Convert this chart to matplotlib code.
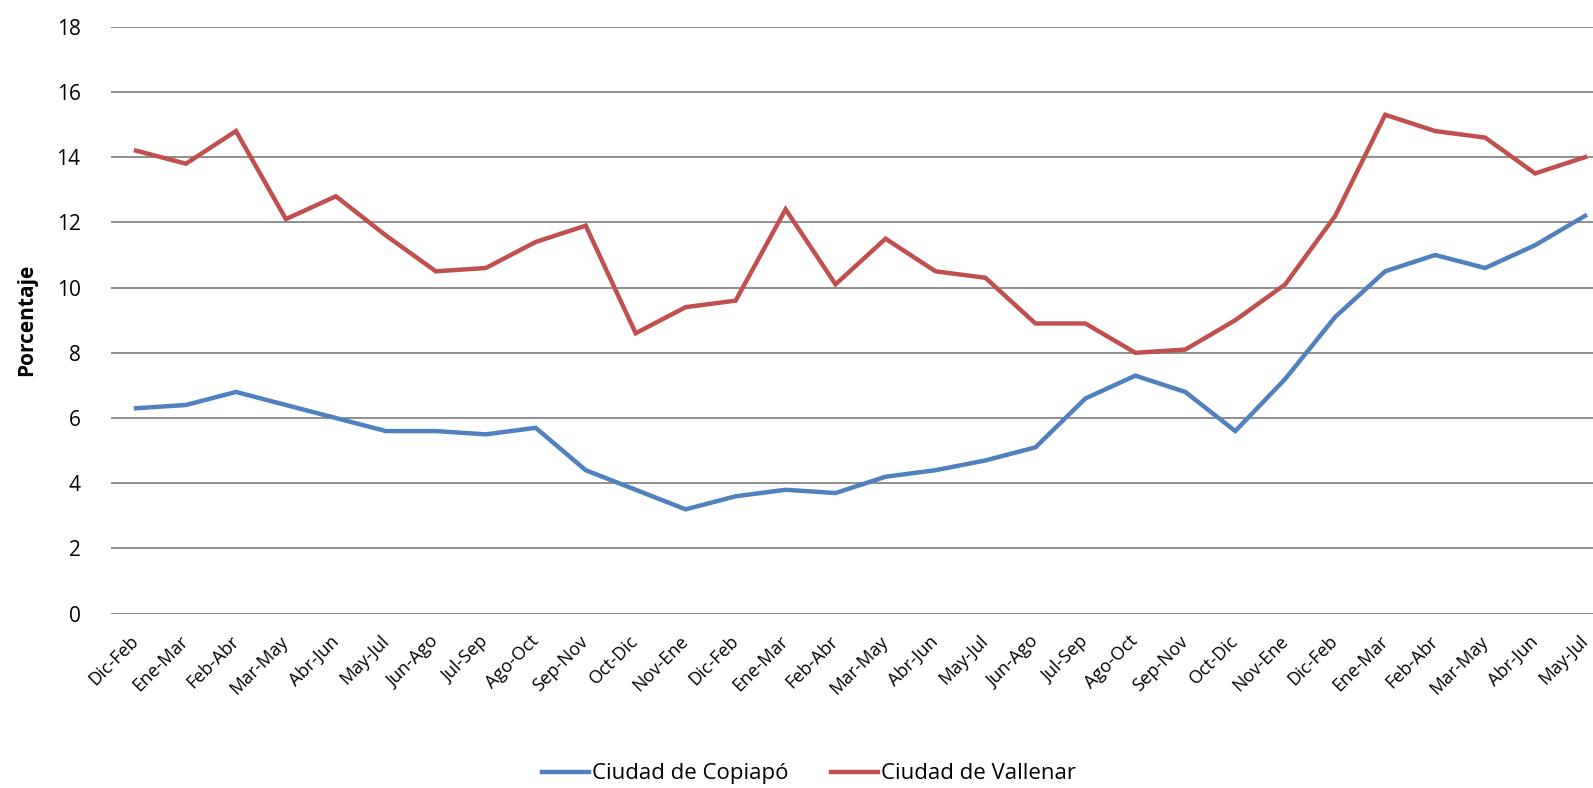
import matplotlib
matplotlib.use("Agg")
import matplotlib.pyplot as plt

periodos = ["Dic-Feb", "Ene-Mar", "Feb-Abr", "Mar-May", "Abr-Jun", "May-Jul",
            "Jun-Ago", "Jul-Sep", "Ago-Oct", "Sep-Nov", "Oct-Dic", "Nov-Ene",
            "Dic-Feb", "Ene-Mar", "Feb-Abr", "Mar-May", "Abr-Jun", "May-Jul",
            "Jun-Ago", "Jul-Sep", "Ago-Oct", "Sep-Nov", "Oct-Dic", "Nov-Ene",
            "Dic-Feb", "Ene-Mar", "Feb-Abr", "Mar-May", "Abr-Jun", "May-Jul"]

copiapo = [6.3, 6.4, 6.8, 6.4, 6.0, 5.6, 5.6, 5.5, 5.7, 4.4,
           3.8, 3.2, 3.6, 3.8, 3.7, 4.2, 4.4, 4.7, 5.1, 6.6,
           7.3, 6.8, 5.6, 7.2, 9.1, 10.5, 11.0, 10.6, 11.3, 12.2]

vallenar = [14.2, 13.8, 14.8, 12.1, 12.8, 11.6, 10.5, 10.6, 11.4, 11.9,
            8.6, 9.4, 9.6, 12.4, 10.1, 11.5, 10.5, 10.3, 8.9, 8.9,
            8.0, 8.1, 9.0, 10.1, 12.2, 15.3, 14.8, 14.6, 13.5, 14.0]

yticks = [0, 2, 4, 6, 8, 10, 12, 14, 16, 18]

plt.rcParams['font.family'] = ['Open Sans', 'DejaVu Sans']

fig = plt.figure(figsize=(15.93, 7.88), dpi=100)
ax = fig.add_axes([0.0697, 0.2212, 0.941, 0.7449])

x = list(range(len(periodos)))
ax.plot(x, copiapo, color='#4F81BD', lw=3.2, solid_joinstyle='miter', label='Ciudad de Copiapó')
ax.plot(x, vallenar, color='#C0504D', lw=3.2, solid_joinstyle='miter', label='Ciudad de Vallenar')

ax.set_xlim(-0.5, len(periodos) - 0.5)
ax.set_ylim(0, 18)
ax.set_yticks(yticks)
ax.set_xticks(x)
ax.set_xticklabels(periodos, rotation=45, ha='right', va='center',
                   rotation_mode='anchor', fontsize=13)
ax.tick_params(axis='y', labelsize=15, length=0, pad=22)
ax.tick_params(axis='x', length=0, pad=18)
ax.yaxis.grid(True, color='#868686', lw=1.3)
ax.set_axisbelow(True)
for s in ax.spines.values():
    s.set_visible(False)

ax.set_ylabel('Porcentaje', fontsize=15, fontweight='bold', labelpad=14)

fig.legend(loc='center', bbox_to_anchor=(0.508, 0.018), ncol=2, frameon=False,
           fontsize=16, handlelength=2.1, handletextpad=0.15, columnspacing=1.9)

fig.savefig('out.png', dpi=100)
